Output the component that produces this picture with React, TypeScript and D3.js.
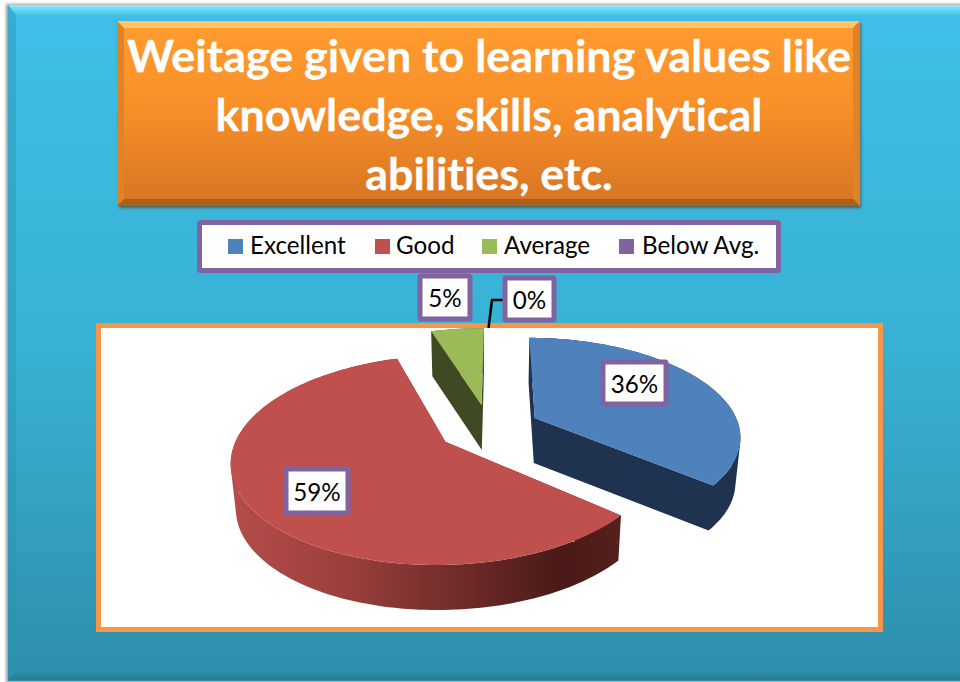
import React from "react";
import * as d3 from "d3";

const title = ["Weitage given to learning values like", "knowledge, skills, analytical", "abilities, etc."];
const categories = ["Excellent", "Good", "Average", "Below Avg."];
const values = [36, 59, 5, 0];
const topColors = ["#4f81bd", "#c0504d", "#9bbb59", "#8064a2"];
const sideColors = ["#1f3350", "url(#redSide)", "#3f4a22", "#40304f"];
const legendSquareX = [228, 375, 482, 619];
const legendTextX = [250, 396, 504, 642];
const labelBoxes = [
  { x: 603, y: 362, w: 63, h: 42, tx: 634.5, ty: 393 },
  { x: 286, y: 469, w: 62, h: 44, tx: 317, ty: 501 },
  { x: 420, y: 276, w: 50, h: 43, tx: 445, ty: 307 },
  { x: 505, y: 278, w: 49, h: 42, tx: 529.5, ty: 309 },
];

const W = 960, H = 682;
const C = { x: 489, y: 428 };
const Rx = 205, Ry = 97, K = 0.17, EXPLODE = 0.25, DEPTH = 45, SHRINK = 0.98;
const START = (0.4 * Math.PI) / 180;

const pieGen = d3.pie<number>().sort(null).startAngle(START).endAngle(START + 2 * Math.PI);
const arcs = pieGen(values);
const line = d3.line<[number, number]>().x((d) => d[0]).y((d) => d[1]);

function project(u: number, v: number, low = false): [number, number] {
  const s = 1 / (1 - K * v);
  const f = low ? SHRINK : 1;
  return [C.x + Rx * u * s * f, C.y + Ry * v * s + (low ? DEPTH : 0)];
}

function sliceRing(a: d3.PieArcDatum<number>): [number, number][] {
  const mid = (a.startAngle + a.endAngle) / 2;
  const ou = EXPLODE * Math.sin(mid), ov = -EXPLODE * Math.cos(mid);
  const n = Math.max(4, Math.ceil((a.endAngle - a.startAngle) * 40));
  const pts: [number, number][] = [[ou, ov]];
  d3.range(n + 1).forEach((i) => {
    const t = a.startAngle + ((a.endAngle - a.startAngle) * i) / n;
    pts.push([ou + Math.sin(t), ov - Math.cos(t)]);
  });
  return pts;
}

function topPath(ring: [number, number][]) {
  return line(ring.map(([u, v]) => project(u, v))) + "Z";
}
// every wall quad gets the same winding so that the nonzero fill merges them
function sidePath(ring: [number, number][]) {
  return ring
    .map((p, i) => {
      const q = ring[(i + 1) % ring.length];
      const quad = [project(p[0], p[1]), project(q[0], q[1]), project(q[0], q[1], true), project(p[0], p[1], true)];
      if (d3.polygonArea(quad) < 0) quad.reverse();
      return line(quad) + "Z";
    })
    .join("");
}

const drawOrder = [0, 2, 1];
const FONT = "Lato, Carlito, 'Open Sans', sans-serif";
const textStyle = { fontVariantLigatures: "none", fontKerning: "normal" } as React.CSSProperties;

export default function App() {
  return (
    <svg width={W} height={H} viewBox={`0 0 ${W} ${H}`} style={{ position: "absolute", left: 0, top: 0, display: "block" }}>
      <defs>
        <linearGradient id="panel" x1="0" y1="0" x2="0" y2="1">
          <stop offset="0" stopColor="#3fbfe8" />
          <stop offset="0.5" stopColor="#38b1d4" />
          <stop offset="1" stopColor="#2e8fac" />
        </linearGradient>
        <linearGradient id="titleFill" x1="0" y1="0" x2="0" y2="1">
          <stop offset="0" stopColor="#ff9c30" />
          <stop offset="0.45" stopColor="#f99029" />
          <stop offset="1" stopColor="#d67424" />
        </linearGradient>
        <linearGradient id="redSide" gradientUnits="userSpaceOnUse" x1="231" y1="0" x2="617" y2="0">
          <stop offset="0" stopColor="#b54d4a" />
          <stop offset="0.3" stopColor="#9a3f3c" />
          <stop offset="0.6" stopColor="#6f2b29" />
          <stop offset="0.85" stopColor="#4a1a18" />
          <stop offset="1" stopColor="#541f1d" />
        </linearGradient>
        <linearGradient id="panelTop" x1="0" y1="0" x2="0" y2="1">
          <stop offset="0" stopColor="#a0e8f8" />
          <stop offset="0.4" stopColor="#6adcf8" />
          <stop offset="1" stopColor="#45c4ec" />
        </linearGradient>
        <linearGradient id="panelBottom" x1="0" y1="0" x2="0" y2="1">
          <stop offset="0" stopColor="#2e8fac" />
          <stop offset="1" stopColor="#2a7a90" />
        </linearGradient>
        <filter id="shadow" x="-5%" y="-5%" width="110%" height="110%">
          <feGaussianBlur stdDeviation="1.5" />
        </filter>
      </defs>

      <rect width={W} height={H} fill="#fff" />
      {/* slide panel */}
      <rect x={6} y={4} width={W} height={H - 3} fill="#9a9a9a" filter="url(#shadow)" />
      <rect x={8} y={5} width={W} height={H - 6} fill="url(#panel)" />
      <polygon points="8,5 960,5 960,15 16,15" fill="url(#panelTop)" />
      <polygon points="8,5 16,15 16,671 8,680" fill="#2a95b4" opacity={0.45} />
      <polygon points="8,680 16,671 960,671 960,680" fill="url(#panelBottom)" />

      {/* title */}
      <rect x={119} y={23} width={742} height={185} fill="#5a3a20" opacity={0.7} filter="url(#shadow)" />
      <rect x={117} y={21} width={743} height={185} fill="url(#titleFill)" />
      <polygon points="117,21 860,21 853,28 124,28" fill="#ffc566" />
      <polygon points="117,21 124,28 124,199 117,206" fill="#e08324" />
      <polygon points="860,21 853,28 853,199 860,206" fill="#e08324" />
      <polygon points="117,206 124,199 853,199 860,206" fill="#a9601a" />
      {title.map((t, i) => (
        <text key={t} x={489} y={72 + i * 59} textAnchor="middle" fontFamily={FONT} fontWeight={700} fontSize={44.8} fill="#fff" stroke="#fff" strokeWidth={0.3} style={textStyle}>
          {t}
        </text>
      ))}

      {/* legend */}
      <rect x={199.5} y={222.5} width={579} height={48} fill="#fff" stroke="#8064a2" strokeWidth={5} rx={1} />
      {categories.map((c, i) => (
        <g key={c}>
          <rect x={legendSquareX[i]} y={239} width={15} height={15} fill={topColors[i]} />
          <text x={legendTextX[i]} y={254} fontFamily={FONT} fontSize={24.2} fill="#000" style={textStyle}>
            {c}
          </text>
        </g>
      ))}

      {/* plot area */}
      <rect x={98.5} y={325.5} width={782} height={304} fill="#fff" stroke="#f79646" strokeWidth={5} />

      {/* pie */}
      {drawOrder.filter((i) => values[i] > 0).map((i) => {
        const ring = sliceRing(arcs[i]);
        return (
          <g key={categories[i]}>
            <path d={sidePath(ring)} fill={sideColors[i]} />
            <path d={topPath(ring)} fill={topColors[i]} />
          </g>
        );
      })}

      {/* leader line for 0% */}
      <path d={line([[488.5, 328], [492, 300], [505, 300]])!} fill="none" stroke="#000" strokeWidth={2.5} />

      {/* data labels */}
      {values.map((v, i) => {
        const b = labelBoxes[i];
        return (
          <g key={categories[i] + "-label"}>
            <rect x={b.x} y={b.y} width={b.w} height={b.h} fill="#fff" stroke="#8064a2" strokeWidth={5} rx={1} />
            <text x={b.tx} y={b.ty} textAnchor="middle" fontFamily={FONT} fontSize={24.2} fill="#000" style={textStyle}>
              {v}%
            </text>
          </g>
        );
      })}
    </svg>
  );
}
